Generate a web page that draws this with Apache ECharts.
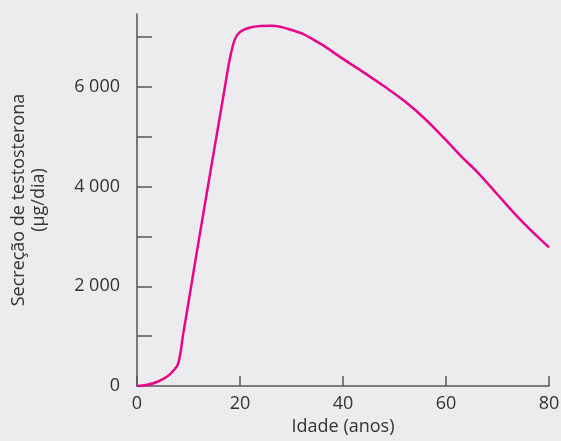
<!DOCTYPE html>
<html><head><meta charset="utf-8">
<script src="https://cdn.jsdelivr.net/npm/echarts@6/dist/echarts.min.js"></script>
<style>html,body{margin:0;padding:0;background:#ececee;}#c{width:561px;height:441px;}</style>
</head><body><div id="c"></div>
<script>
var ages = [0,2,4,6,7,8,9,10,12,14,16,17,18,19,20,22,24,26,28,30,32,34,36,40,44,48,52,56,60,63,66,70,74,77,80];
var secretion = [0,25,85,200,300,450,1060,1680,2920,4140,5350,5950,6550,6950,7100,7190,7220,7225,7200,7140,7070,6960,6840,6560,6290,6010,5710,5350,4930,4600,4300,3840,3380,3070,2780];
var xTicks = [0,20,40,60,80];
var yLabelValues = [0,2000,4000,6000];
var yTickValues = [1000,2000,3000,4000,5000,6000,7000];

var chart = echarts.init(document.getElementById('c'));
var font = 'Open Sans';
chart.setOption({
  backgroundColor: '#ececee',
  animation: false,
  grid: {left: 137, right: 12, top: 14, bottom: 55, containLabel: false, outerBoundsMode: 'none'},
  xAxis: {
    type: 'value', min: 0, max: 80, interval: 20,
    name: 'Idade (anos)', nameLocation: 'middle', nameGap: 25,
    nameTextStyle: {fontFamily: font, fontSize: 18, color: '#333'},
    axisLine: {lineStyle: {color: '#555', width: 1.5}},
    axisTick: {inside: true, length: 10, lineStyle: {color: '#555', width: 1.5}, customValues: xTicks},
    axisLabel: {fontFamily: font, fontSize: 18, color: '#333', margin: 9, customValues: xTicks},
    splitLine: {show: false}
  },
  yAxis: {
    type: 'value', min: 0, max: 7460,
    name: 'Secreção de testosterona\n(µg/dia)', nameLocation: 'middle', nameGap: 88,
    nameRotate: 90,
    nameTextStyle: {fontFamily: font, fontSize: 18, color: '#333', lineHeight: 20, align: 'center'},
    axisLine: {show: true, lineStyle: {color: '#555', width: 1.5}},
    axisTick: {show: true, inside: true, length: 15, lineStyle: {color: '#555', width: 1.5}, customValues: yTickValues},
    axisLabel: {fontFamily: font, fontSize: 18, color: '#333', margin: 17, customValues: yLabelValues,
      formatter: function(v){ return v === 0 ? '0' : (v/1000) + ' 000'; }},
    splitLine: {show: false}
  },
  series: [{
    type: 'line', smooth: 0.35, symbol: 'none',
    data: ages.map(function(a,i){ return [a, secretion[i]]; }),
    lineStyle: {color: '#e8068a', width: 2.5}
  }]
});
</script></body></html>
